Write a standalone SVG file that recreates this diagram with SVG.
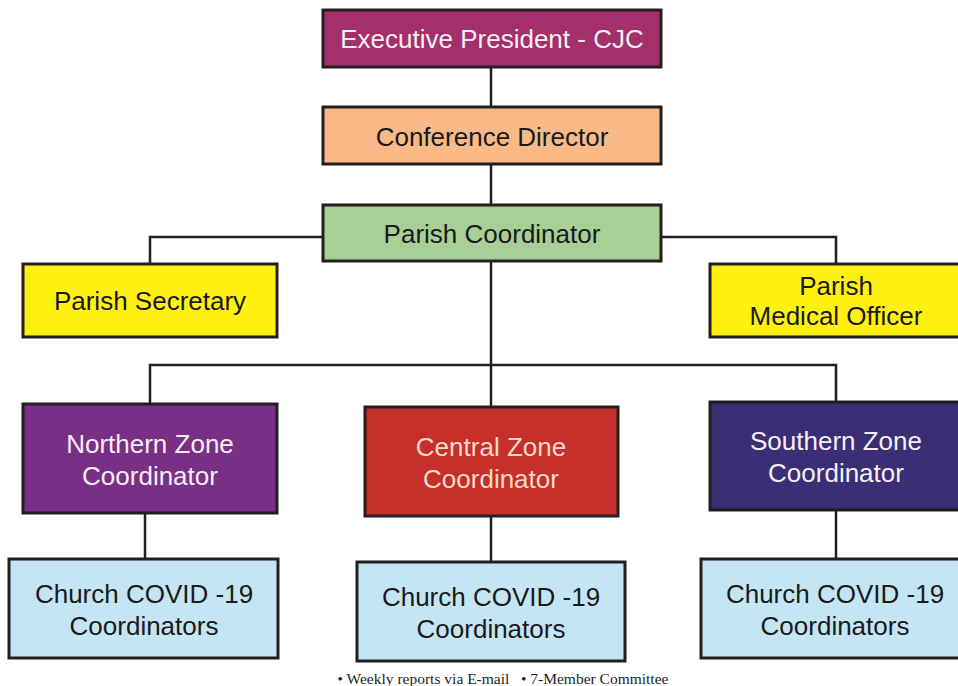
<svg xmlns="http://www.w3.org/2000/svg" width="958" height="686" viewBox="0 0 958 686">
  <style>
    .box { stroke: #231f20; stroke-width: 3; }
    .lbl { font-family: "Liberation Sans", Arial, sans-serif; font-size: 26px; text-anchor: middle; }
    .dark { fill: #1a1a1a; }
    .light { fill: #f7eef2; }
    .link { fill: none; stroke: #231f20; stroke-width: 2.5; }
    .note { font-family: "Liberation Serif", "Times New Roman", serif; font-size: 15.5px; fill: #231f20; text-anchor: middle; }
  </style>
  <rect width="958" height="686" fill="#ffffff"/>

  <!-- connectors -->
  <g id="connectors">
    <path class="link" d="M491 67 V107"/>
    <path class="link" d="M491 164 V205"/>
    <path class="link" d="M323 237 H150 V264"/>
    <path class="link" d="M661 237 H836 V264"/>
    <path class="link" d="M491 261 V407"/>
    <path class="link" d="M150 404 V365 H836 V402"/>
    <path class="link" d="M145 513 V559"/>
    <path class="link" d="M491 516 V562"/>
    <path class="link" d="M836 510 V559"/>
  </g>

  <g id="executive-president">
    <rect class="box" x="323" y="10" width="338" height="57" fill="#a3306a"/>
    <text class="lbl light" x="492" y="48">Executive President - CJC</text>
  </g>

  <g id="conference-director">
    <rect class="box" x="323" y="107" width="338" height="57" fill="#f8b987"/>
    <text class="lbl dark" x="492" y="146">Conference Director</text>
  </g>

  <g id="parish-coordinator">
    <rect class="box" x="323" y="205" width="338" height="56" fill="#a8cf96"/>
    <text class="lbl dark" x="492" y="243">Parish Coordinator</text>
  </g>

  <g id="parish-secretary">
    <rect class="box" x="23" y="264" width="254" height="73" fill="#fff10f"/>
    <text class="lbl dark" x="150" y="310">Parish Secretary</text>
  </g>

  <g id="parish-medical-officer">
    <rect class="box" x="710" y="264" width="252" height="73" fill="#fff10f"/>
    <text class="lbl dark" x="836" y="295">Parish</text>
    <text class="lbl dark" x="836" y="325">Medical Officer</text>
  </g>

  <g id="northern-zone">
    <rect class="box" x="23" y="404" width="254" height="109" fill="#7a2f86"/>
    <text class="lbl light" x="150" y="453">Northern Zone</text>
    <text class="lbl light" x="150" y="485">Coordinator</text>
  </g>

  <g id="central-zone">
    <rect class="box" x="365" y="407" width="253" height="109" fill="#c72f2a"/>
    <text class="lbl" x="491" y="456" fill="#f6dcc8">Central Zone</text>
    <text class="lbl" x="491" y="488" fill="#f6dcc8">Coordinator</text>
  </g>

  <g id="southern-zone">
    <rect class="box" x="710" y="402" width="252" height="108" fill="#3a2f74"/>
    <text class="lbl light" x="836" y="450">Southern Zone</text>
    <text class="lbl light" x="836" y="482">Coordinator</text>
  </g>

  <g id="church-north">
    <rect class="box" x="9" y="559" width="269" height="99" fill="#c4e5f4"/>
    <text class="lbl dark" x="144" y="603">Church COVID -19</text>
    <text class="lbl dark" x="144" y="635">Coordinators</text>
  </g>

  <g id="church-central">
    <rect class="box" x="357" y="562" width="268" height="99" fill="#c4e5f4"/>
    <text class="lbl dark" x="491" y="606">Church COVID -19</text>
    <text class="lbl dark" x="491" y="638">Coordinators</text>
  </g>

  <g id="church-south">
    <rect class="box" x="701" y="559" width="261" height="99" fill="#c4e5f4"/>
    <text class="lbl dark" x="835" y="603">Church COVID -19</text>
    <text class="lbl dark" x="835" y="635">Coordinators</text>
  </g>

  <text class="note" x="503" y="684" xml:space="preserve">• Weekly reports via E-mail   • 7-Member Committee</text>
</svg>
